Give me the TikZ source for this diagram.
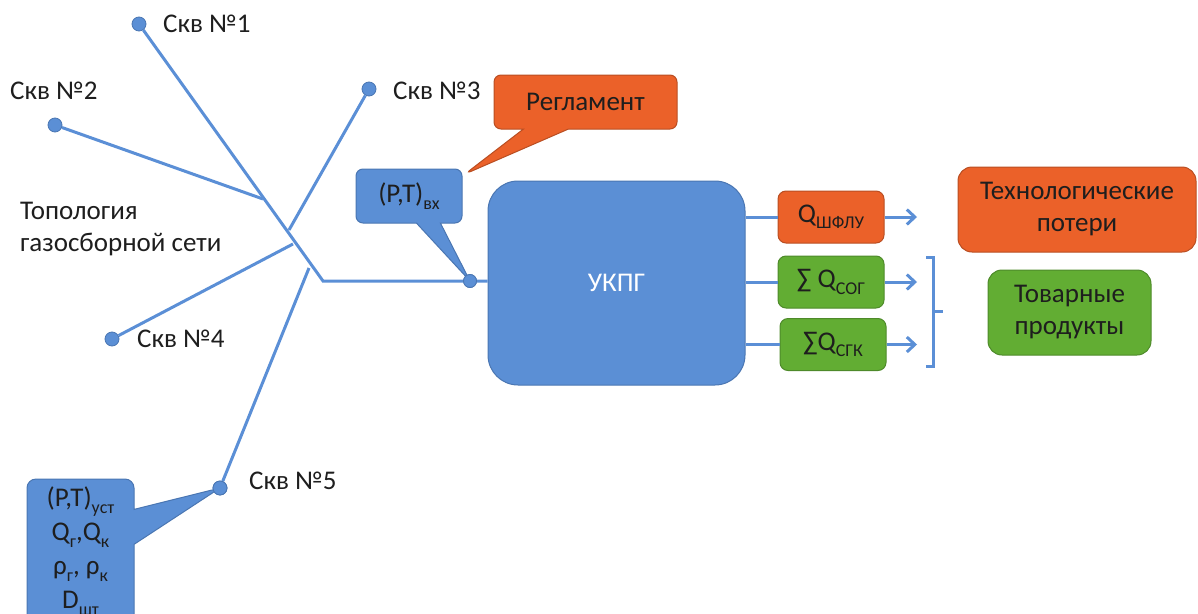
\documentclass[tikz,border=0pt]{standalone}
\usepackage{fontspec}
\setmainfont{Carlito}
\usetikzlibrary{arrows.meta,shapes.callouts}
\definecolor{bfill}{HTML}{5B8FD5}
\definecolor{bline}{HTML}{5B8FD6}
\definecolor{bbord}{HTML}{4A76B2}
\definecolor{ofill}{HTML}{EB6129}
\definecolor{obord}{HTML}{B94E22}
\definecolor{gfill}{HTML}{62AD33}
\definecolor{gbord}{HTML}{4E8A2A}
\definecolor{txt}{HTML}{1E1E1E}
\newcommand\sbx[1]{\raisebox{-0.24em}{\fontsize{18}{18}\selectfont #1}}
\newcommand\fmain{\fontsize{27}{32}\selectfont}
\begin{document}
\begin{tikzpicture}[x=1pt,y=-1pt,
  every node/.style={font=\fmain, text=txt},
  pipe/.style={draw=bline, line width=3pt},
  arr/.style={draw=bline, line width=3pt, -{Straight Barb[length=8pt,width=15pt,line width=3pt]}},
  welldot/.style={circle, fill=bfill, draw=bbord, line width=0.8pt, inner sep=0pt, minimum size=14pt},
  bluebox/.style={rectangle, fill=bfill, draw=bbord, line width=1pt, rounded corners=8pt, inner sep=0pt},
  orbox/.style={rectangle, fill=ofill, draw=obord, line width=1pt, rounded corners=8pt, inner sep=0pt},
  grbox/.style={rectangle, fill=gfill, draw=gbord, line width=1pt, rounded corners=8pt, inner sep=0pt},
  lbl/.style={anchor=west, inner sep=0pt}
]
\useasboundingbox (0,0) rectangle (1198,613);

% wells and network
\node[welldot] (w1) at (139,24) {};
\node[welldot] (w2) at (55,125) {};
\node[welldot] (w3) at (369,89) {};
\node[welldot] (w4) at (112,339) {};
\node[welldot] (w5) at (220,488) {};
\coordinate (bend) at (323,281);
\coordinate (e2) at (263,199);
\coordinate (e3) at (289,230);
\coordinate (e4) at (293,244);
\coordinate (e5) at (309,268);

\node[bluebox, rounded corners=30pt, minimum width=257pt, minimum height=204pt, text=white] (ukpg) at (616.5,283) {УКПГ};
\node[circle, fill=bfill, draw=bbord, line width=0.8pt, inner sep=0pt, minimum size=13pt] (j) at (470,281) {};

\draw[pipe] (w1) -- (bend) -- (j) -- (ukpg.west |- j);
\draw[pipe] (w2) -- (e2);
\draw[pipe] (w3) -- (e3);
\draw[pipe] (w4) -- (e4);
\draw[pipe] (w5) -- (e5);

\node[lbl] (l1) at (163,24) {Скв №1};
\node[lbl] (l2) at (10,91) {Скв №2};
\node[lbl] (l3) at (393,91) {Скв №3};
\node[lbl] (l4) at (137,339) {Скв №4};
\node[lbl] (l5) at (249,481) {Скв №5};
\node[lbl, align=left] (topo) at (20,229) {Топология\\газосборной сети};

% callouts
\coordinate (regtip) at (465,174);
\node[rectangle callout, fill=ofill, draw=obord, line width=1pt, rounded corners=7pt,
  minimum width=183pt, minimum height=54pt, callout absolute pointer={(regtip)},
  callout pointer width=45pt] (reg) at (585.5,102) {Регламент};
\node[rectangle callout, fill=bfill, draw=bbord, line width=1pt, rounded corners=7pt,
  minimum width=106pt, minimum height=54pt, callout absolute pointer={(j)},
  callout pointer width=24pt] (ptvx) at (409,196) {(P,T)\sbx{вх}};
\node[rectangle callout, fill=bfill, draw=bbord, line width=1pt, rounded corners=9pt,
  minimum width=107pt, minimum height=144pt, callout absolute pointer={(w5)},
  callout pointer width=35pt, align=center, font=\fontsize{27}{34}\selectfont] (par) at (80.5,551)
  {(P,T)\sbx{уст}\\Q\sbx{г},Q\sbx{к}\\ρ\sbx{г}, ρ\sbx{к}\\D\sbx{шт}};
\node[circle, fill=bfill, draw=bbord, line width=0.8pt, inner sep=0pt, minimum size=13pt] (jd) at (j) {};
\node[welldot] (w5d) at (w5) {};

% outputs
\node[orbox, minimum width=106pt, minimum height=52pt] (q1) at (831,217) {Q\sbx{ШФЛУ}};
\node[grbox, minimum width=106pt, minimum height=52pt] (q2) at (831,282) {∑ Q\sbx{СОГ}};
\node[grbox, minimum width=106pt, minimum height=52pt] (q3) at (833,344.5) {∑Q\sbx{СГК}};
\draw[pipe] (ukpg.east |- q1) -- (q1.west);
\draw[pipe] (ukpg.east |- q2) -- (q2.west);
\draw[pipe] (ukpg.east |- q3) -- (q3.west);
\coordinate (a1) at (917,217);
\coordinate (a2) at (917,282);
\coordinate (a3) at (917,344.5);
\draw[arr] (q1.east) -- (a1);
\draw[arr] (q2.east) -- (a2);
\draw[arr] (q3.east) -- (a3);

\coordinate (b1) at (926,257);
\coordinate (b2) at (933,257);
\coordinate (b3) at (933,366);
\coordinate (b4) at (926,366);
\coordinate (bm) at (933,311);
\coordinate (bt) at (943,311);
\draw[draw=bline, line width=3pt] (b1) -- (b2) -- (b3) -- (b4);
\draw[draw=bline, line width=3pt] (bm) -- (bt);

\node[orbox, rounded corners=14pt, minimum width=238pt, minimum height=85pt, align=center] (loss) at (1077,209.5) {Технологические\\потери};
\node[grbox, rounded corners=14pt, minimum width=163pt, minimum height=85pt, align=center] (prod) at (1069.5,312.5) {Товарные\\продукты};
\end{tikzpicture}
\end{document}
